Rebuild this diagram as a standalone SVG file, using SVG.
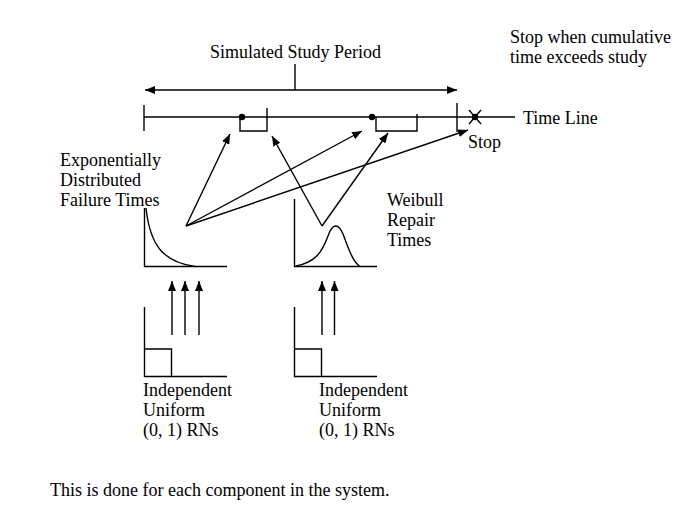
<svg xmlns="http://www.w3.org/2000/svg" width="690" height="517" viewBox="0 0 690 517">
<style>
text{font-family:'Liberation Serif','Times New Roman','DejaVu Serif',serif;font-size:18px;fill:#000}
.ln{stroke:#000;stroke-width:1.4;fill:none}
.ar{stroke:#000;stroke-width:1.4;fill:none;marker-end:url(#ah)}
</style>
<defs>
<marker id="ah" viewBox="0 0 10 8" refX="10" refY="4" markerWidth="10" markerHeight="8" markerUnits="userSpaceOnUse" orient="auto">
<path d="M0,0 L10,4 L0,8 Z" fill="#000"/>
</marker>
<marker id="ahs" viewBox="0 0 10 8" refX="10" refY="4" markerWidth="10" markerHeight="8" markerUnits="userSpaceOnUse" orient="auto-start-reverse">
<path d="M0,0 L10,4 L0,8 Z" fill="#000"/>
</marker>
</defs>
<rect width="690" height="517" fill="#fff"/>

<g id="study-period">
<text x="210" y="58">Simulated Study Period</text>
<line class="ln" x1="295" y1="64" x2="295" y2="90"/>
<line class="ln" x1="145" y1="90" x2="457" y2="90" marker-start="url(#ahs)" marker-end="url(#ahs)"/>
</g>

<g id="stop-note">
<text x="510" y="43">Stop when cumulative</text>
<text x="510" y="63">time exceeds study</text>
</g>

<g id="time-line">
<line class="ln" x1="144" y1="117" x2="515" y2="117"/>
<line class="ln" x1="144" y1="105" x2="144" y2="131"/>
<line class="ln" x1="457" y1="103" x2="457" y2="132"/>
<circle cx="242" cy="117" r="3.2" fill="#000"/>
<path class="ln" d="M240,117 V131 H267 V108"/>
<circle cx="372" cy="117" r="3.2" fill="#000"/>
<path class="ln" d="M376,117 V131 H417 V114"/>
<circle cx="475" cy="117" r="3.2" fill="#000"/>
<line class="ln" x1="469" y1="110" x2="481" y2="124"/>
<line class="ln" x1="481" y1="110" x2="469" y2="124"/>
<text x="523" y="124">Time Line</text>
<text x="468" y="148">Stop</text>
</g>

<g id="exponential">
<text x="60" y="166">Exponentially</text>
<text x="60" y="186">Distributed</text>
<text x="60" y="206">Failure Times</text>
<path class="ln" d="M144.5,208 V266.5 H227"/>
<path class="ln" d="M146,208 C150,245 163,262 195,266.5"/>
</g>

<g id="weibull">
<text x="387" y="206">Weibull</text>
<text x="387" y="226">Repair</text>
<text x="387" y="246">Times</text>
<path class="ln" d="M294.5,199 V266.5 H377"/>
<path class="ln" d="M296,266 C316,262 322,252 328,236 C332,224 338,222 343,234 C349,250 353,262 360,266.5"/>
</g>

<g id="uniform-1">
<path class="ln" d="M144.5,307 V376.5 H227"/>
<path class="ln" d="M144.5,349 H171.5 V376.5"/>
<text x="143" y="396">Independent</text>
<text x="143" y="416">Uniform</text>
<text x="143" y="436">(0, 1) RNs</text>
</g>

<g id="uniform-2">
<path class="ln" d="M294.5,307 V376.5 H377"/>
<path class="ln" d="M294.5,349 H321.5 V376.5"/>
<text x="319" y="396">Independent</text>
<text x="319" y="416">Uniform</text>
<text x="319" y="436">(0, 1) RNs</text>
</g>

<g id="connectors">
<line class="ar" x1="186" y1="226" x2="230" y2="134"/>
<line class="ar" x1="186" y1="226" x2="362" y2="131"/>
<line class="ar" x1="186" y1="226" x2="468" y2="130"/>
<line class="ar" x1="322" y1="226" x2="272" y2="136"/>
<line class="ar" x1="322" y1="226" x2="388" y2="133"/>
<line class="ar" x1="172" y1="335" x2="172" y2="281"/>
<line class="ar" x1="185" y1="335" x2="185" y2="281"/>
<line class="ar" x1="199" y1="335" x2="199" y2="281"/>
<line class="ar" x1="322" y1="335" x2="322" y2="281"/>
<line class="ar" x1="334.5" y1="335" x2="334.5" y2="281"/>
</g>

<g id="footnote">
<text x="50" y="496">This is done for each component in the system.</text>
</g>
</svg>
